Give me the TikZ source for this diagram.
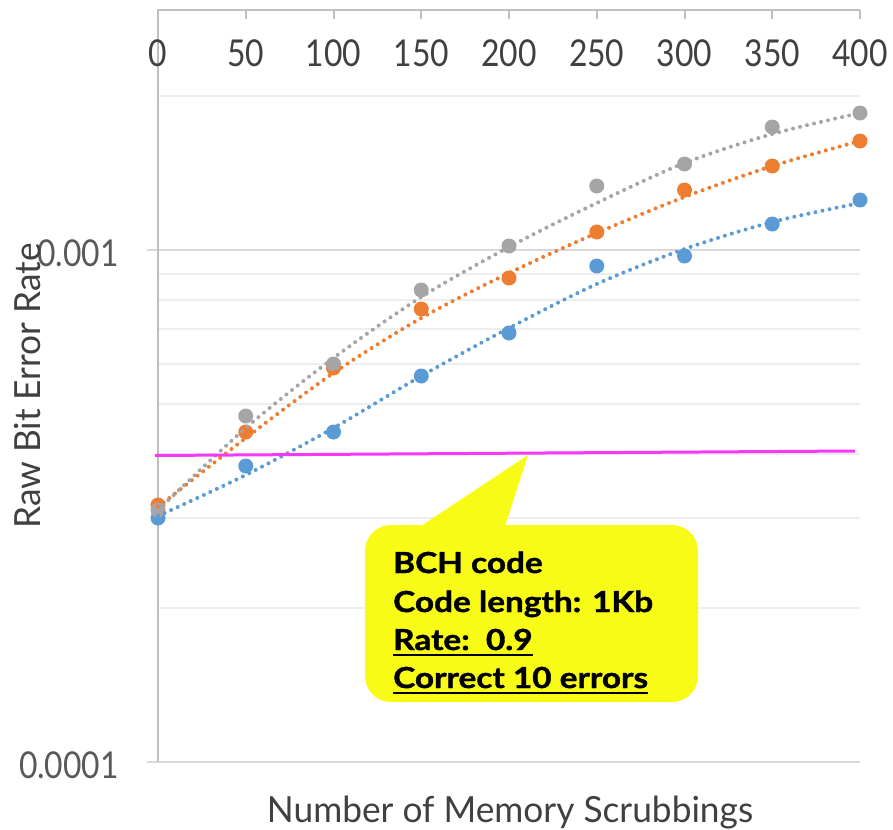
\documentclass[tikz,border=0pt]{standalone}
\usepackage{fontspec}
\setmainfont{Lato}[FakeStretch=0.86]
\newfontfamily\titlefont{Lato}[FakeStretch=0.98]
\newfontfamily\notefont{Lato}[FakeStretch=1.15,BoldFeatures={FakeBold=1.3}]
\usetikzlibrary{calc}
\definecolor{gridminor}{HTML}{EEEEEE}
\definecolor{gridmajor}{HTML}{D9D9D9}
\definecolor{axisgray}{HTML}{BFBFBF}
\definecolor{labeltext}{HTML}{404040}
\definecolor{ylabeltext}{HTML}{595959}
\definecolor{sgray}{HTML}{A5A5A5}
\definecolor{sorange}{HTML}{ED7D31}
\definecolor{sblue}{HTML}{5B9BD5}
\definecolor{limitline}{HTML}{F838F8}
\definecolor{noteyellow}{HTML}{F7FB16}
\begin{document}
\begin{tikzpicture}[x=1bp,y=-1bp,
  minorgrid/.style={draw=gridminor,line width=2bp},
  majorgrid/.style={draw=gridmajor,line width=2bp},
  axisline/.style={draw=axisgray,line width=2bp},
  ticklabel/.style={font=\fontsize{37bp}{40bp}\selectfont,text=labeltext,inner sep=0pt},
  ylabel/.style={font=\fontsize{37bp}{40bp}\selectfont,text=ylabeltext,inner sep=0pt,anchor=east},
  axistitle/.style={font=\titlefont\fontsize{36bp}{40bp}\selectfont,text=labeltext,inner sep=0pt},
  mk/.style={circle,fill=#1,minimum size=15bp,inner sep=0pt},
  trend/.style={draw=#1,line width=4bp,dash pattern=on 0bp off 7.2bp,line cap=round},
  notetext/.style={font=\notefont\fontsize{29bp}{32bp}\selectfont\bfseries,text=black,inner sep=0pt,anchor=base west},
  noteline/.style={draw=black,line width=2.2bp}]
\useasboundingbox (0,0) rectangle (893,830);

% minor gridlines (log scale, one decade = 512 units)
\foreach \yy in {96,274,300,329,364,404,454,518,608}
  \draw[minorgrid] (158,\yy) -- (860,\yy);
% major gridlines with their ticks
\draw[majorgrid] (147,250) -- (860,250);
\draw[majorgrid] (147,762) -- (860,762);
% axes
\draw[axisline] (158,762) -- (158,10) -- (860,10);
\foreach \i in {1,...,8}
  \draw[axisline] ({158+87.75*\i},10) -- ({158+87.75*\i},19);
\draw[axisline] (860,10) -- (860,19);

% tick labels along the top
\foreach \v [count=\i from 0] in {0,50,100,150,200,250,300,350,400}
  \node[ticklabel] (xt\i) at ({158+87.75*\i},53) {\v};
\node[ylabel] (yt1) at (119,253) {0.001};
\node[ylabel] (yt2) at (119,765) {0.0001};

% axis titles
\node[axistitle,anchor=base] (xtitle) at (510,822) {Number of Memory Scrubbings};
\node[axistitle,anchor=base,rotate=90] (ytitle) at (40,386) {Raw Bit Error Rate};

% data markers
\foreach \x/\y in {158/518,245.75/466,333.5/432,421.25/376,509/333,596.75/266,684.5/256,772.25/224,860/200}
  \node[mk=sblue] at (\x,\y) {};
\foreach \x/\y in {158/505,245.75/432,333.5/368,421.25/309,509/278,596.75/232,684.5/190,772.25/166,860/141}
  \node[mk=sorange] at (\x,\y) {};
\foreach \x/\y in {158/510,245.75/416,333.5/364,421.25/290,509/246,596.75/186,684.5/164,772.25/127,860/113}
  \node[mk=sgray] at (\x,\y) {};

% trend lines
\draw[trend=sblue] plot[smooth] coordinates {(158,516) (245.75,475) (333.5,428) (421.25,376) (509,328) (596.75,284) (684.5,249) (772.25,222) (860,203)};
\draw[trend=sorange] plot[smooth] coordinates {(158,507) (245.75,438) (333.5,373) (421.25,318) (509,273) (596.75,233) (684.5,197) (772.25,166) (860,141)};
\draw[trend=sgray] plot[smooth] coordinates {(158,510) (245.75,428) (333.5,358) (421.25,297) (509,247) (596.75,203) (684.5,163) (772.25,134) (860,113)};

% threshold line
\coordinate (limA) at (155,455.5);
\coordinate (limB) at (855,451);
\draw[limitline,line width=3bp] (limA) -- (limB);

% callout
\node[fill=noteyellow,rounded corners=26bp,minimum width=333bp,minimum height=177bp,inner sep=0pt] (callout) at (531.5,613.5) {};
\coordinate (tip) at (528,455);
\fill[noteyellow] ($(callout.north west)+(55,2)$) -- (tip) -- ($(callout.north west)+(140,2)$) -- cycle;
\node[notetext] (n1) at (393,573) {BCH code};
\node[notetext] (n2) at (393,612) {Code length: 1Kb};
\node[notetext] (n3) at (393,650) {Rate:\ \ 0.9};
\node[notetext] (n4) at (393,688) {Correct 10 errors};
\draw[noteline] ($(n3.base west)+(0,5)$) -- ($(n3.base east)+(0,5)$);
\draw[noteline] ($(n4.base west)+(0,5)$) -- ($(n4.base east)+(0,5)$);
\end{tikzpicture}
\end{document}
